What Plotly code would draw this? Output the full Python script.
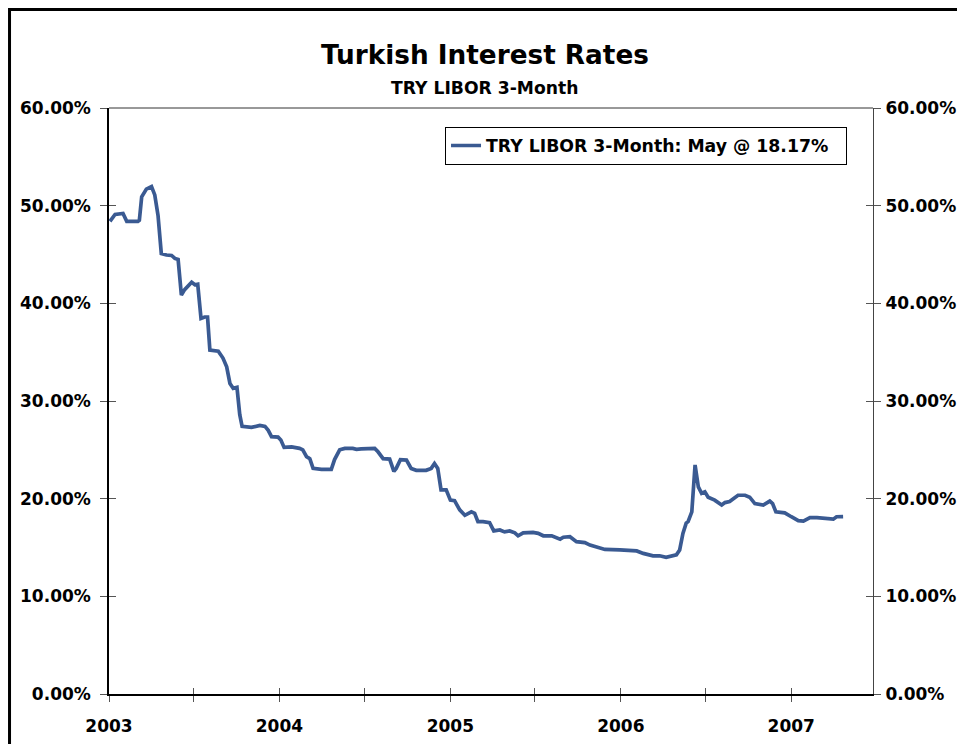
import plotly.graph_objects as go

# TRY LIBOR 3-month (percent)
dates = [
    "2003-01-03", "2003-01-14", "2003-01-31", "2003-02-08", "2003-03-04", "2003-03-07",
    "2003-03-12", "2003-03-22", "2003-04-02", "2003-04-09", "2003-04-16", "2003-04-23",
    "2003-05-04", "2003-05-15", "2003-05-22", "2003-05-29", "2003-06-05", "2003-06-12",
    "2003-06-27", "2003-07-04", "2003-07-10", "2003-07-17", "2003-07-25", "2003-07-31",
    "2003-08-05", "2003-08-23", "2003-09-02", "2003-09-10", "2003-09-17", "2003-09-24",
    "2003-10-02", "2003-10-08", "2003-10-13", "2003-11-02", "2003-11-20", "2003-12-01",
    "2003-12-08", "2003-12-15", "2003-12-29", "2004-01-04", "2004-01-11", "2004-01-19",
    "2004-01-27", "2004-02-13", "2004-02-20", "2004-02-28", "2004-03-06", "2004-03-13",
    "2004-03-31", "2004-04-21", "2004-04-28", "2004-05-09", "2004-05-20", "2004-06-06",
    "2004-06-14", "2004-06-24", "2004-07-23", "2004-07-30", "2004-08-10", "2004-08-24",
    "2004-09-02", "2004-09-07", "2004-09-16", "2004-09-29", "2004-10-09", "2004-10-20",
    "2004-11-10", "2004-11-21", "2004-11-28", "2004-12-05", "2004-12-12", "2004-12-23",
    "2005-01-01", "2005-01-10", "2005-01-21", "2005-02-01", "2005-02-15", "2005-02-22",
    "2005-03-01", "2005-03-12", "2005-03-26", "2005-04-04", "2005-04-17", "2005-04-27",
    "2005-05-08", "2005-05-19", "2005-05-26", "2005-06-06", "2005-06-27", "2005-07-08",
    "2005-07-19", "2005-08-06", "2005-08-24", "2005-08-31", "2005-09-14", "2005-09-28",
    "2005-10-16", "2005-10-27", "2005-11-14", "2005-11-28", "2005-12-30", "2006-02-04",
    "2006-02-18", "2006-03-11", "2006-03-25", "2006-04-08", "2006-04-30", "2006-05-07",
    "2006-05-14", "2006-05-21", "2006-05-25", "2006-06-02", "2006-06-09", "2006-06-16",
    "2006-06-23", "2006-06-30", "2006-07-07", "2006-07-21", "2006-08-05", "2006-08-12",
    "2006-08-22", "2006-09-09", "2006-09-24", "2006-10-04", "2006-10-15", "2006-11-02",
    "2006-11-16", "2006-11-22", "2006-11-29", "2006-12-18", "2007-01-01", "2007-01-16",
    "2007-01-27", "2007-02-10", "2007-02-25", "2007-04-01", "2007-04-08", "2007-04-22",
]
rates = [
    48.4, 49.1, 49.2, 48.4, 48.4, 48.5,
    50.9, 51.7, 51.95, 51.1, 49.0, 45.1,
    44.95, 44.9, 44.6, 44.5, 40.85, 41.4,
    42.15, 41.9, 41.95, 38.45, 38.6, 38.6,
    35.2, 35.1, 34.4, 33.5, 31.8, 31.3,
    31.4, 28.6, 27.4, 27.3, 27.5, 27.4,
    27.0, 26.35, 26.3, 26.0, 25.25, 25.3,
    25.3, 25.15, 25.0, 24.3, 24.1, 23.1,
    23.0, 23.0, 24.0, 25.0, 25.15, 25.15,
    25.05, 25.1, 25.15, 24.8, 24.1, 24.05,
    22.8, 23.1, 24.0, 23.95, 23.1, 22.9,
    22.9, 23.1, 23.6, 23.1, 20.9, 20.9,
    19.85, 19.8, 18.85, 18.3, 18.65, 18.5,
    17.65, 17.65, 17.55, 16.7, 16.8, 16.6,
    16.7, 16.5, 16.2, 16.5, 16.55, 16.45,
    16.2, 16.2, 15.85, 16.05, 16.1, 15.6,
    15.5, 15.25, 15.0, 14.8, 14.75, 14.65,
    14.4, 14.15, 14.15, 14.0, 14.25, 14.75,
    16.45, 17.5, 17.65, 18.65, 23.45, 21.2,
    20.55, 20.7, 20.15, 19.85, 19.35, 19.6,
    19.7, 20.35, 20.35, 20.15, 19.5, 19.35,
    19.75, 19.5, 18.65, 18.55, 18.15, 17.75,
    17.7, 18.05, 18.05, 17.9, 18.15, 18.17,
]
series_name = "TRY LIBOR 3-Month: May @ 18.17%"
y_ticks = [0, 10, 20, 30, 40, 50, 60]
y_tick_text = [f"{v:.2f}%" for v in y_ticks]

FONT = "DejaVu Sans"
LINE_COLOR = "#3a5a92"
TICK_COLOR = "#555555"

fig = go.Figure()
fig.add_trace(go.Scatter(
    x=dates, y=rates, mode="lines", name=series_name + "&nbsp;&nbsp;",
    line=dict(color=LINE_COLOR, width=3.7),
))
# invisible copies so the overlay axes (right axis, crossing ticks) get drawn
for xa, ya in [("x", "y2"), ("x2", "y"), ("x", "y3"), ("x", "y4")]:
    fig.add_trace(go.Scatter(
        x=dates, y=rates, mode="lines", xaxis=xa, yaxis=ya, opacity=0,
        showlegend=False, hoverinfo="skip", line=dict(width=0.1),
    ))

x_range = ["2003-01-01", "2007-06-25"]
tick_font = dict(family=FONT, size=17, color="black", weight="bold")

fig.update_layout(
    width=957, height=744,
    margin=dict(l=109, r=84, t=108, b=50, autoexpand=False),
    paper_bgcolor="white", plot_bgcolor="white",
    font=dict(family=FONT, color="black"),
    showlegend=True,
    legend=dict(
        x=0.966, y=0.968, xanchor="right", yanchor="top",
        bgcolor="white", bordercolor="black", borderwidth=1,
        itemwidth=30,
        font=dict(family=FONT, size=17.3, color="black", weight="bold"),
    ),
    xaxis=dict(
        range=x_range, type="date", tick0="2003-01-01", dtick="M12", tickformat="%Y",
        ticks="outside", ticklen=6, tickcolor=TICK_COLOR, tickwidth=1,
        ticklabelstandoff=10, automargin=False,
        minor=dict(dtick="M6", tick0="2003-01-01", ticks="outside", ticklen=6,
                   tickcolor=TICK_COLOR),
        showline=True, linecolor="black", linewidth=2,
        showgrid=False, zeroline=False, tickfont=tick_font,
    ),
    xaxis2=dict(
        range=x_range, type="date", overlaying="x", anchor="y", side="bottom",
        tick0="2003-01-01", dtick="M12", ticks="inside", ticklen=6,
        tickcolor=TICK_COLOR, showticklabels=False, showgrid=False, zeroline=False,
        minor=dict(dtick="M6", tick0="2003-01-01", ticks="inside", ticklen=6,
                   tickcolor=TICK_COLOR),
    ),
    yaxis=dict(
        range=[0, 60], tickvals=y_ticks, ticktext=y_tick_text, ticks="outside",
        ticklen=7, tickcolor=TICK_COLOR, ticklabelstandoff=6, tickfont=tick_font,
        showline=True, linecolor="black", linewidth=1.5, automargin=False,
        showgrid=False, zeroline=False,
    ),
    yaxis3=dict(
        range=[0, 60], tickvals=y_ticks, overlaying="y", side="left", anchor="x",
        ticks="inside", ticklen=7, tickcolor=TICK_COLOR, showticklabels=False,
        showgrid=False, zeroline=False,
    ),
    yaxis2=dict(
        range=[0, 60], tickvals=y_ticks, ticktext=y_tick_text, overlaying="y",
        side="right", anchor="x", ticks="outside", ticklen=7, tickcolor=TICK_COLOR,
        ticklabelstandoff=1, tickfont=tick_font, automargin=False,
        showline=True, linecolor="#444444", linewidth=1,
        showgrid=False, zeroline=False,
    ),
    yaxis4=dict(
        range=[0, 60], tickvals=y_ticks, overlaying="y", side="right", anchor="x",
        ticks="inside", ticklen=7, tickcolor=TICK_COLOR, showticklabels=False,
        showgrid=False, zeroline=False,
    ),
)

# thin top border of the plot area
fig.add_shape(type="line", xref="paper", yref="paper", x0=0, x1=1, y0=1, y1=1,
              line=dict(color="#333333", width=1))
# outer frame around the whole chart (right and bottom edges fall off the page)
fig.add_shape(type="rect", xref="paper", yref="paper",
              x0=-0.1302, x1=1.13, y0=-0.1, y1=1.168,
              line=dict(color="black", width=3), layer="above")

fig.add_annotation(text="Turkish Interest Rates", xref="paper", yref="paper",
                   x=0.4915, y=1.0904, xanchor="center", yanchor="middle", showarrow=False,
                   font=dict(family=FONT, size=26.3, color="black", weight="bold"))
fig.add_annotation(text="TRY LIBOR 3-Month", xref="paper", yref="paper",
                   x=0.4915, y=1.034, xanchor="center", yanchor="middle", showarrow=False,
                   font=dict(family=FONT, size=17.2, color="black", weight="bold"))

# page without the default body margin or scrollbars, so the 957x744 figure fills the window
fig.write_html(
    "out.html",
    config={"displayModeBar": False},
    post_script="document.body.style.margin='0px';document.body.style.overflow='hidden';",
)
